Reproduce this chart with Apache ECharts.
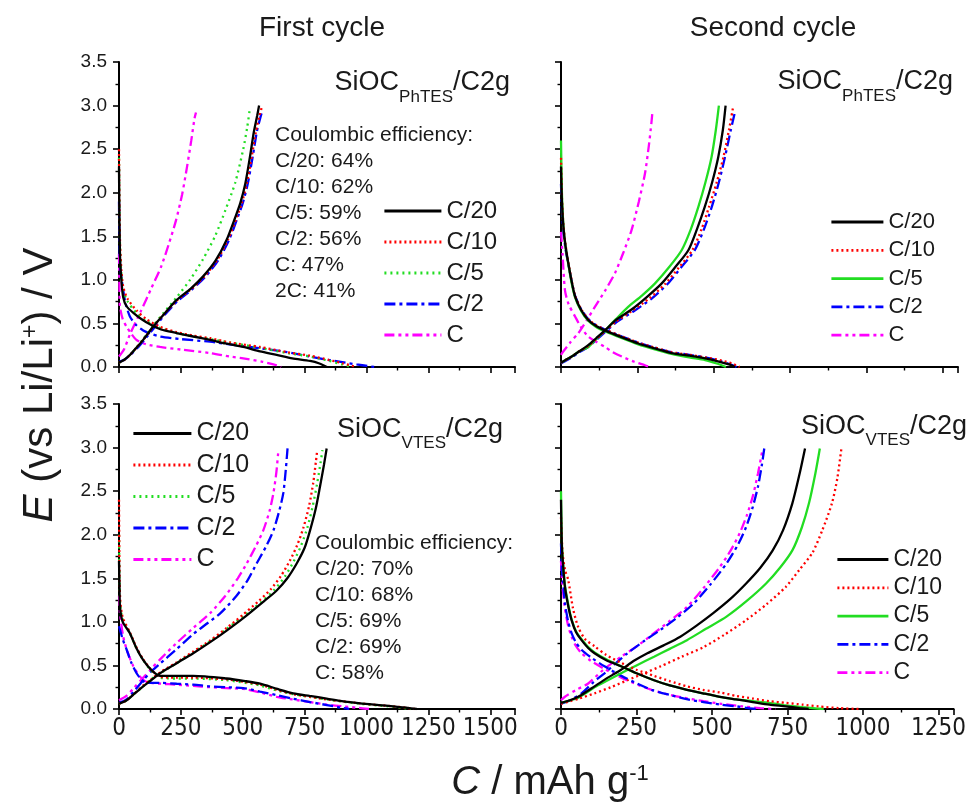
<!DOCTYPE html>
<html><head><meta charset="utf-8">
<script src="https://cdn.jsdelivr.net/npm/echarts@6/dist/echarts.min.js"></script>
<style>html,body{margin:0;padding:0;background:#fff}#c{width:969px;height:808px}</style>
</head><body><div id="c"></div>
<script>
// ---------- categories / labels ----------
const RATES = ['C/20', 'C/10', 'C/5', 'C/2', 'C'];
const COLUMN_TITLES = ['First cycle', 'Second cycle'];
const CE_PHTES = ['Coulombic efficiency:', 'C/20: 64%', 'C/10: 62%', 'C/5: 59%', 'C/2: 56%', 'C: 47%', '2C: 41%'];
const CE_VTES = ['Coulombic efficiency:', 'C/20: 70%', 'C/10: 68%', 'C/5: 69%', 'C/2: 69%', 'C: 58%'];
const X_MAX = [1600, 1300];
const X_INTERVAL = 250;
const Y_MAX = 3.5;
const Y_INTERVAL = 0.5;

// ---------- Panel 1: first cycle, SiOC_PhTES/C2g  [capacity mAh/g, E V] ----------
const p1_dis_C20 = [[0,2.3],[2,1.6],[5,1.2],[10,0.98],[17,0.8],[30,0.7],[58,0.62],[90,0.55],[125,0.49],[170,0.43],[233,0.39],[300,0.35],[368,0.31],[430,0.27],[502,0.23],[570,0.18],[637,0.14],[700,0.1],[772,0.07],[810,0.04],[840,0.0]];
const p1_dis_C10 = [[0,2.5],[2,1.8],[5,1.35],[10,1.1],[17,0.92],[35,0.78],[71,0.65],[110,0.55],[166,0.46],[233,0.4],[300,0.36],[368,0.33],[450,0.28],[570,0.23],[680,0.17],[772,0.13],[850,0.08],[906,0.04],[960,0.0]];
const p1_dis_C5  = [[0,2.4],[2,1.7],[5,1.3],[10,1.05],[17,0.88],[35,0.75],[71,0.62],[110,0.53],[166,0.45],[233,0.39],[300,0.35],[368,0.32],[450,0.28],[570,0.22],[680,0.16],[772,0.12],[850,0.07],[900,0.03],[940,0.0]];
const p1_dis_C2  = [[0,1.9],[2,1.4],[5,1.15],[11,1.0],[25,0.75],[44,0.58],[70,0.48],[98,0.42],[130,0.38],[166,0.35],[250,0.32],[368,0.29],[470,0.25],[570,0.215],[680,0.17],[772,0.12],[870,0.07],[960,0.03],[1020,0.005],[1040,0]];
const p1_dis_C   = [[0,1.3],[2,0.85],[4,0.69],[15,0.55],[31,0.46],[50,0.38],[71,0.31],[110,0.26],[166,0.23],[250,0.2],[368,0.16],[450,0.12],[502,0.1],[580,0.06],[637,0.02],[655,0]];
const p1_ch_C20 = [[0,0.05],[20,0.08],[45,0.14],[70,0.22],[100,0.32],[140,0.47],[180,0.6],[233,0.77],[290,0.9],[340,1.04],[390,1.22],[435,1.46],[470,1.72],[490,1.88],[510,2.1],[529,2.41],[545,2.7],[558,2.88],[566,3.0]];
const p1_ch_C10 = [[0,0.05],[20,0.08],[45,0.14],[70,0.22],[100,0.32],[140,0.47],[180,0.6],[233,0.76],[290,0.89],[345,1.04],[395,1.22],[440,1.46],[476,1.72],[496,1.88],[516,2.1],[536,2.41],[553,2.7],[567,2.88],[576,2.97]];
const p1_ch_C5  = [[0,0.05],[20,0.08],[45,0.14],[70,0.22],[100,0.33],[140,0.48],[180,0.62],[230,0.79],[287,1.0],[340,1.24],[388,1.5],[430,1.8],[470,2.12],[502,2.5],[518,2.75],[529,2.97]];
const p1_ch_C2  = [[0,0.06],[25,0.09],[50,0.15],[75,0.22],[105,0.32],[145,0.46],[185,0.6],[238,0.76],[295,0.89],[350,1.04],[400,1.22],[445,1.46],[480,1.72],[500,1.88],[520,2.1],[540,2.41],[557,2.7],[570,2.85],[577,2.92]];
const p1_ch_C   = [[0,0.12],[20,0.2],[45,0.38],[90,0.65],[130,0.9],[170,1.15],[200,1.4],[230,1.68],[255,1.98],[275,2.3],[292,2.6],[305,2.85],[311,2.92]];

// ---------- Panel 2: second cycle, SiOC_PhTES/C2g ----------
const p2_dis_C20 = [[0,2.3],[3,1.9],[8,1.6],[15,1.38],[24,1.19],[35,0.98],[46,0.81],[65,0.66],[89,0.54],[115,0.47],[144,0.42],[200,0.34],[253,0.27],[310,0.21],[362,0.16],[420,0.13],[472,0.1],[520,0.06],[550,0.03],[570,0]];
const p2_dis_C10 = [[0,2.4],[3,1.95],[8,1.62],[15,1.4],[24,1.2],[35,0.99],[46,0.82],[65,0.67],[89,0.55],[115,0.48],[144,0.43],[200,0.35],[253,0.28],[310,0.22],[362,0.17],[420,0.14],[472,0.11],[520,0.08],[560,0.04],[585,0]];
const p2_dis_C5  = [[0,2.6],[3,2.0],[8,1.62],[15,1.38],[24,1.18],[35,0.96],[46,0.8],[65,0.65],[89,0.53],[115,0.46],[144,0.41],[200,0.33],[253,0.26],[310,0.2],[362,0.15],[420,0.11],[472,0.08],[510,0.04],[540,0]];
const p2_dis_C2  = [[0,2.1],[3,1.8],[8,1.55],[15,1.35],[24,1.18],[35,0.98],[46,0.82],[65,0.67],[89,0.55],[115,0.48],[144,0.43],[200,0.35],[253,0.28],[310,0.22],[362,0.17],[420,0.14],[472,0.11],[520,0.07],[555,0.03],[575,0]];
const p2_dis_C   = [[0,1.55],[5,1.3],[13,0.88],[25,0.72],[46,0.58],[65,0.46],[89,0.35],[115,0.29],[144,0.23],[170,0.17],[199,0.12],[240,0.06],[275,0.02],[290,0]];
const p2_ch_C20 = [[0,0.05],[15,0.08],[35,0.12],[60,0.18],[89,0.25],[115,0.33],[144,0.42],[180,0.54],[231,0.66],[280,0.8],[330,0.96],[375,1.15],[417,1.34],[445,1.58],[471,1.84],[495,2.12],[515,2.41],[530,2.72],[539,3.0]];
const p2_ch_C10 = [[0,0.05],[15,0.08],[35,0.12],[60,0.18],[89,0.24],[115,0.32],[144,0.41],[180,0.52],[235,0.65],[290,0.79],[340,0.95],[388,1.15],[430,1.34],[460,1.58],[485,1.84],[510,2.12],[532,2.41],[550,2.72],[564,2.99]];
const p2_ch_C5  = [[0,0.05],[15,0.08],[35,0.12],[60,0.18],[89,0.23],[115,0.32],[144,0.42],[180,0.55],[220,0.69],[265,0.82],[308,0.96],[355,1.15],[395,1.34],[425,1.58],[450,1.84],[473,2.12],[493,2.41],[507,2.72],[517,3.0]];
const p2_ch_C2  = [[0,0.04],[15,0.07],[35,0.11],[60,0.17],[89,0.23],[115,0.31],[144,0.4],[180,0.51],[238,0.64],[295,0.78],[348,0.95],[395,1.15],[438,1.34],[468,1.58],[494,1.84],[517,2.12],[537,2.41],[556,2.72],[570,2.93]];
const p2_ch_C   = [[0,0.14],[8,0.18],[30,0.28],[57,0.39],[85,0.54],[111,0.69],[145,0.88],[177,1.08],[205,1.32],[231,1.57],[255,1.9],[275,2.22],[288,2.55],[296,2.8],[299,2.91]];

// ---------- Panel 3: first cycle, SiOC_VTES/C2g ----------
const p3_dis_C20 = [[0,1.7],[2,1.4],[4,1.17],[15,1.0],[44,0.87],[70,0.7],[98,0.56],[130,0.45],[166,0.38],[230,0.38],[300,0.38],[435,0.35],[510,0.32],[570,0.29],[640,0.23],[704,0.18],[770,0.15],[839,0.12],[900,0.09],[974,0.065],[1050,0.045],[1108,0.03],[1160,0.015],[1203,0]];
const p3_dis_C10 = [[0,2.4],[2,1.6],[5,1.25],[15,1.05],[44,0.88],[70,0.71],[98,0.57],[130,0.45],[166,0.37],[230,0.36],[300,0.36],[435,0.34],[510,0.31],[570,0.28],[640,0.22],[704,0.17],[770,0.14],[839,0.11],[900,0.09],[974,0.065],[1050,0.045],[1108,0.03],[1160,0.015],[1195,0]];
const p3_dis_C5  = [[0,2.0],[2,1.5],[5,1.2],[15,1.03],[44,0.87],[70,0.7],[98,0.56],[130,0.44],[166,0.36],[230,0.35],[300,0.35],[435,0.33],[510,0.3],[570,0.27],[640,0.21],[704,0.17],[770,0.14],[839,0.11],[900,0.085],[974,0.06],[1050,0.04],[1108,0.025],[1150,0.01],[1180,0]];
const p3_dis_C2  = [[0,0.95],[5,0.9],[15,0.8],[31,0.68],[50,0.53],[71,0.41],[90,0.34],[112,0.3],[170,0.3],[233,0.29],[300,0.28],[368,0.26],[435,0.25],[502,0.24],[570,0.2],[637,0.16],[700,0.12],[772,0.08],[840,0.045],[906,0.01],[930,0]];
const p3_dis_C   = [[0,1.3],[4,1.1],[17,0.83],[35,0.65],[58,0.49],[85,0.37],[112,0.31],[170,0.29],[233,0.28],[300,0.265],[368,0.25],[435,0.24],[502,0.23],[570,0.19],[637,0.14],[700,0.11],[772,0.08],[840,0.05],[906,0.03],[960,0.015],[1010,0]];
const p3_ch_C20 = [[0,0.06],[31,0.1],[60,0.17],[98,0.26],[130,0.33],[166,0.41],[230,0.52],[300,0.64],[370,0.77],[435,0.9],[510,1.06],[583,1.23],[637,1.36],[680,1.5],[718,1.67],[750,1.85],[772,2.05],[795,2.3],[812,2.55],[828,2.8],[839,2.99]];
const p3_ch_C10 = [[0,0.06],[31,0.1],[60,0.17],[98,0.27],[130,0.34],[166,0.42],[230,0.53],[300,0.66],[370,0.79],[435,0.93],[500,1.08],[565,1.24],[615,1.38],[655,1.53],[690,1.7],[720,1.88],[745,2.08],[768,2.33],[785,2.6],[796,2.85],[801,2.97]];
const p3_ch_C5  = [[0,0.06],[31,0.1],[60,0.17],[98,0.26],[130,0.34],[166,0.41],[230,0.52],[300,0.65],[370,0.78],[435,0.92],[505,1.07],[575,1.23],[628,1.37],[670,1.52],[705,1.69],[735,1.87],[760,2.07],[782,2.32],[800,2.58],[814,2.82],[822,2.97]];
const p3_ch_C2  = [[0,0.07],[30,0.11],[60,0.2],[98,0.33],[130,0.43],[166,0.52],[230,0.68],[300,0.86],[360,0.99],[410,1.1],[475,1.3],[520,1.48],[556,1.67],[595,1.87],[624,2.05],[648,2.28],[664,2.48],[674,2.75],[681,2.99]];
const p3_ch_C   = [[0,0.1],[30,0.15],[60,0.24],[98,0.36],[130,0.46],[166,0.57],[230,0.75],[300,0.93],[368,1.1],[430,1.3],[480,1.5],[516,1.67],[555,1.88],[583,2.05],[608,2.27],[624,2.48],[636,2.72],[644,2.97]];

// ---------- Panel 4: second cycle, SiOC_VTES/C2g ----------
const p4_dis_C20 = [[0,2.4],[3,1.85],[8,1.6],[13,1.4],[24,1.18],[35,1.02],[50,0.88],[68,0.79],[90,0.7],[111,0.64],[150,0.56],[199,0.49],[250,0.41],[308,0.33],[360,0.27],[417,0.22],[470,0.18],[526,0.14],[580,0.11],[635,0.08],[690,0.05],[744,0.03],[790,0.01],[820,0]];
const p4_dis_C10 = [[0,2.2],[5,1.8],[13,1.6],[24,1.48],[40,1.15],[57,0.94],[80,0.8],[111,0.72],[150,0.62],[199,0.53],[250,0.45],[308,0.38],[360,0.32],[417,0.26],[470,0.22],[526,0.19],[580,0.15],[635,0.12],[690,0.09],[744,0.07],[800,0.05],[853,0.03],[920,0.01],[985,0]];
const p4_dis_C5  = [[0,2.5],[3,1.9],[8,1.62],[13,1.42],[24,1.2],[35,1.03],[50,0.89],[68,0.8],[90,0.71],[111,0.65],[150,0.57],[199,0.49],[250,0.41],[308,0.33],[360,0.27],[417,0.22],[470,0.18],[526,0.14],[580,0.11],[635,0.09],[690,0.07],[744,0.04],[800,0.02],[850,0.005],[870,0]];
const p4_dis_C2  = [[0,1.9],[3,1.6],[8,1.4],[13,1.21],[24,1.0],[35,0.87],[50,0.76],[68,0.68],[100,0.59],[144,0.49],[200,0.38],[253,0.29],[300,0.22],[362,0.16],[420,0.11],[472,0.08],[530,0.05],[581,0.03],[620,0.01],[645,0]];
const p4_dis_C   = [[0,1.7],[3,1.5],[8,1.3],[13,1.15],[24,0.95],[35,0.83],[50,0.72],[68,0.64],[100,0.55],[144,0.46],[200,0.36],[253,0.28],[300,0.22],[362,0.16],[420,0.12],[472,0.09],[530,0.06],[600,0.03],[660,0.01],[710,0]];
const p4_ch_C20 = [[0,0.07],[30,0.1],[57,0.14],[85,0.2],[111,0.26],[155,0.36],[199,0.45],[240,0.55],[286,0.64],[340,0.73],[395,0.83],[450,0.96],[504,1.1],[560,1.26],[613,1.44],[660,1.62],[701,1.82],[735,2.05],[766,2.36],[790,2.7],[808,2.99]];
const p4_ch_C10 = [[0,0.06],[30,0.09],[60,0.12],[111,0.18],[165,0.25],[220,0.33],[275,0.41],[330,0.49],[400,0.6],[472,0.71],[540,0.85],[613,1.02],[680,1.2],[744,1.4],[790,1.6],[832,1.79],[865,2.05],[897,2.36],[915,2.65],[928,2.98]];
const p4_ch_C5  = [[0,0.07],[30,0.1],[57,0.13],[85,0.19],[111,0.25],[155,0.33],[199,0.41],[250,0.5],[308,0.6],[360,0.69],[417,0.79],[480,0.92],[548,1.06],[615,1.24],[679,1.44],[725,1.62],[766,1.82],[797,2.08],[821,2.36],[842,2.7],[857,2.99]];
const p4_ch_C2  = [[0,0.06],[30,0.1],[68,0.18],[105,0.3],[144,0.41],[180,0.52],[220,0.64],[275,0.78],[330,0.91],[385,1.05],[439,1.21],[495,1.43],[548,1.67],[585,1.88],[613,2.09],[635,2.32],[652,2.55],[665,2.8],[673,2.99]];
const p4_ch_C   = [[0,0.1],[13,0.14],[50,0.22],[89,0.29],[140,0.45],[199,0.6],[255,0.73],[308,0.87],[360,1.01],[417,1.17],[470,1.38],[526,1.63],[562,1.82],[592,2.02],[615,2.22],[635,2.44],[652,2.7],[668,2.99]];

// ---------- styling ----------
const FONT = "'Liberation Sans', Arial, sans-serif";
const NARROW = "'Liberation Sans Narrow', 'Arial Narrow', 'DejaVu Sans Condensed', 'Liberation Sans', sans-serif";
const TXT = '#1a1a1a';
const COLORS = ['#000000', '#ff0000', '#22dd22', '#0000ff', '#ff00ff'];
const DOT_RED = [2, 3], DOT_GREEN = [2, 4], DASH_DOT = [11, 4, 3, 4], DASH_DOT_DOT = [10, 4, 3, 4, 3, 4];
const TYPES_FIRST = ['solid', DOT_RED, DOT_GREEN, DASH_DOT, DASH_DOT_DOT];
const TYPES_SECOND = ['solid', DOT_RED, 'solid', DASH_DOT, DASH_DOT_DOT];

const panels = [
  { dis: [p1_dis_C20, p1_dis_C10, p1_dis_C5, p1_dis_C2, p1_dis_C], ch: [p1_ch_C20, p1_ch_C10, p1_ch_C5, p1_ch_C2, p1_ch_C], types: TYPES_FIRST, col: 0, row: 0 },
  { dis: [p2_dis_C20, p2_dis_C10, p2_dis_C5, p2_dis_C2, p2_dis_C], ch: [p2_ch_C20, p2_ch_C10, p2_ch_C5, p2_ch_C2, p2_ch_C], types: TYPES_SECOND, col: 1, row: 0 },
  { dis: [p3_dis_C20, p3_dis_C10, p3_dis_C5, p3_dis_C2, p3_dis_C], ch: [p3_ch_C20, p3_ch_C10, p3_ch_C5, p3_ch_C2, p3_ch_C], types: TYPES_FIRST, col: 0, row: 1 },
  { dis: [p4_dis_C20, p4_dis_C10, p4_dis_C5, p4_dis_C2, p4_dis_C], ch: [p4_ch_C20, p4_ch_C10, p4_ch_C5, p4_ch_C2, p4_ch_C], types: TYPES_SECOND, col: 1, row: 1 }
];
const GRID_LEFT = [119, 561], GRID_W = [396, 397], GRID_TOP = [62, 404], GRID_H = 305;
const LEGEND_POS = [
  { left: 383, top: 199, w: 57, fs: 24, gap: 7 },
  { left: 830, top: 211, w: 52, fs: 22, gap: 6.3 },
  { left: 132, top: 421, w: 58, fs: 25, gap: 6.5 },
  { left: 836, top: 548, w: 51, fs: 23, gap: 5.3 }
];

const grids = [], xAxes = [], yAxes = [], series = [], legends = [];
panels.forEach((p, pi) => {
  grids.push({ left: GRID_LEFT[p.col], top: GRID_TOP[p.row], width: GRID_W[p.col], height: GRID_H, containLabel: false });
  xAxes.push({
    type: 'value', gridIndex: pi, min: 0, max: X_MAX[p.col], interval: X_INTERVAL,
    axisLine: { show: true, onZero: false, lineStyle: { color: '#000', width: 2 } },
    axisTick: { show: true, length: 6, lineStyle: { color: '#000', width: 1.6 } },
    minorTick: { show: true, splitNumber: 2, length: 3.5, lineStyle: { color: '#000', width: 1.4 } },
    splitLine: { show: false }, minorSplitLine: { show: false },
    axisLabel: { show: p.row === 1, margin: 8, fontSize: 24, fontFamily: NARROW, color: TXT,
      formatter: v => (v % X_INTERVAL === 0 ? String(v) : '') }
  });
  yAxes.push({
    type: 'value', gridIndex: pi, min: 0, max: Y_MAX, interval: Y_INTERVAL,
    axisLine: { show: true, onZero: false, lineStyle: { color: '#000', width: 2 } },
    axisTick: { show: true, length: 6, lineStyle: { color: '#000', width: 1.6 } },
    minorTick: { show: true, splitNumber: 2, length: 3.5, lineStyle: { color: '#000', width: 1.4 } },
    splitLine: { show: false }, minorSplitLine: { show: false },
    axisLabel: { show: p.col === 0, margin: 12, fontSize: 19, fontFamily: FONT, color: TXT,
      formatter: v => v.toFixed(1) }
  });
  RATES.forEach((r, ri) => {
    const name = r + '@' + pi;
    [p.dis[ri], p.ch[ri]].forEach(d => {
      series.push({
        type: 'line', name, xAxisIndex: pi, yAxisIndex: pi, data: d,
        showSymbol: false, symbol: 'none', smooth: 0.25, animation: false, z: 10 - ri,
        lineStyle: { color: COLORS[ri], width: 2.3, type: p.types[ri] },
        itemStyle: { color: COLORS[ri] }
      });
    });
  });
  const L = LEGEND_POS[pi];
  legends.push({
    orient: 'vertical', left: L.left, top: L.top, itemWidth: L.w, itemHeight: 14, itemGap: L.gap,
    selectedMode: false, padding: 0,
    data: RATES.map(r => r + '@' + pi), formatter: n => n.split('@')[0],
    textStyle: { fontSize: L.fs, lineHeight: L.fs, fontFamily: FONT, color: TXT },
    itemStyle: { opacity: 0, borderWidth: 0 },
    lineStyle: { width: 2.8 }
  });
});

// panel label "SiOC_sub/C2g" built from three plain text pieces (subscript lowered)
const measureCtx = document.createElement('canvas').getContext('2d');
function textWidth(str, size) { measureCtx.font = size + "px 'Liberation Sans', Arial, sans-serif"; return measureCtx.measureText(str).width; }
function panelLabel(right, baseline, sub) {
  const MAIN = 27, SUB = 17;
  const w3 = textWidth('/C2g', MAIN), w2 = textWidth(sub, SUB), w1 = textWidth('SiOC', MAIN);
  const x3 = right - w3, x2 = x3 - w2, x1 = x2 - w1;
  const mainY = baseline - 0.33 * MAIN, subY = baseline + 11 - 0.33 * SUB;
  const mk = (t, x, y, fs) => ({ type: 'text', x, y, z: 100, style: { text: t, font: fs + 'px ' + FONT, fill: TXT, align: 'left', verticalAlign: 'middle' } });
  return [mk('SiOC', x1, mainY, MAIN), mk(sub, x2, subY, SUB), mk('/C2g', x3, mainY, MAIN)];
}
function ceText(x, y, lines) {
  return { type: 'text', x, y, z: 100, style: { text: lines.join('\n'), font: '21px ' + FONT, lineHeight: 26, fill: TXT, align: 'left', verticalAlign: 'top' } };
}

const graphics = [
  { type: 'text', x: 322, y: 28, style: { text: COLUMN_TITLES[0], font: '28px ' + FONT, fill: TXT, align: 'center', verticalAlign: 'middle' } },
  { type: 'text', x: 773, y: 28, style: { text: COLUMN_TITLES[1], font: '28px ' + FONT, fill: TXT, align: 'center', verticalAlign: 'middle' } },
  ...panelLabel(510, 91.5, 'PhTES'),
  ...panelLabel(953, 90.5, 'PhTES'),
  ...panelLabel(503, 438, 'VTES'),
  ...panelLabel(967, 435, 'VTES'),
  ceText(275, 122, CE_PHTES),
  ceText(315, 530, CE_VTES),
  {
    type: 'text', x: 40, y: 385, rotation: Math.PI / 2,
    style: {
      text: '{i|E}{n| (vs Li/Li}{s|+}{n|) / V}', align: 'center', verticalAlign: 'middle', fill: TXT,
      rich: {
        i: { fontSize: 42, fontFamily: FONT, fontStyle: 'italic', lineHeight: 42, fill: TXT },
        n: { fontSize: 42, fontFamily: FONT, lineHeight: 42, fill: TXT },
        s: { fontSize: 23, fontFamily: FONT, lineHeight: 23, verticalAlign: 'top', fill: TXT }
      }
    }
  },
  {
    type: 'text', x: 550, y: 783,
    style: {
      text: '{i|C}{n| / mAh g}{s|-1}', align: 'center', verticalAlign: 'middle', fill: TXT,
      rich: {
        i: { fontSize: 40, fontFamily: FONT, fontStyle: 'italic', lineHeight: 40, fill: TXT },
        n: { fontSize: 40, fontFamily: FONT, lineHeight: 40, fill: TXT },
        s: { fontSize: 22, fontFamily: FONT, lineHeight: 22, verticalAlign: 'top', fill: TXT }
      }
    }
  }
];

const chart = echarts.init(document.getElementById('c'), null, { renderer: 'canvas' });
chart.setOption({
  backgroundColor: '#ffffff',
  animation: false,
  grid: grids, xAxis: xAxes, yAxis: yAxes, series, legend: legends, graphic: graphics
});
</script></body></html>
